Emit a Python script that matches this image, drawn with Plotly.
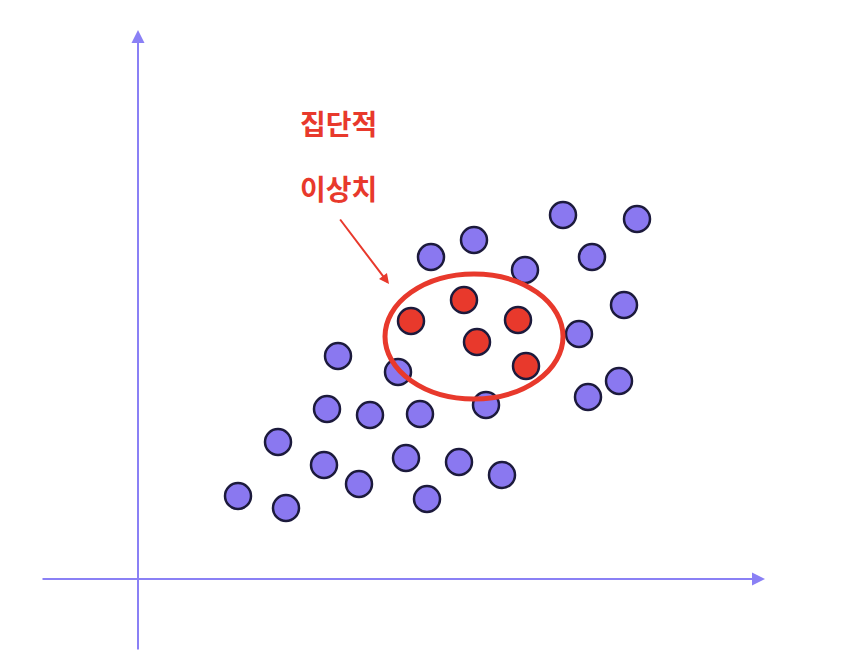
import plotly.graph_objects as go

# point positions (pixel-like units, y grows downwards)
normal_x = [555, 629, 466, 423, 584, 517, 616, 571, 330, 390, 611, 580, 478,
            319, 362, 412, 270, 316, 398, 451, 494, 351, 230, 278, 419]
normal_y = [207, 211, 232, 249, 249, 262, 297, 326, 348, 364, 373, 389, 397,
            401, 407, 406, 434, 457, 450, 454, 467, 476, 488, 500, 491]
outlier_x = [456, 403, 510, 469, 518]
outlier_y = [292, 313, 312, 334, 358]

purple = "#8a78f0"
red = "#e8392c"
edge = "#1c1a3c"
axis_col = "#8a80f5"

fig = go.Figure()
fig.add_trace(go.Scatter(x=normal_x, y=normal_y, mode="markers",
                         marker=dict(size=26, color=purple, line=dict(color=edge, width=2.5))))
fig.add_trace(go.Scatter(x=outlier_x, y=outlier_y, mode="markers",
                         marker=dict(size=26, color=red, line=dict(color=edge, width=2.5))))

# cluster ellipse
fig.add_shape(type="circle", x0=377, x1=555, y0=266, y1=391,
              line=dict(color=red, width=5))

# axes with arrow heads
fig.add_annotation(x=130, y=22, ax=130, ay=643, xref="x", yref="y", axref="x", ayref="y",
                   showarrow=True, arrowhead=2, arrowsize=1.3, arrowwidth=2, arrowcolor=axis_col, text="")
fig.add_annotation(x=757, y=571, ax=33, ay=571, xref="x", yref="y", axref="x", ayref="y",
                   showarrow=True, arrowhead=2, arrowsize=1.3, arrowwidth=2, arrowcolor=axis_col, text="")

# label and pointer
fig.add_annotation(x=330, y=115, text="<b>집단적</b>", showarrow=False,
                   font=dict(size=28, color=red, family="Noto Sans CJK KR"))
fig.add_annotation(x=330, y=180, text="<b>이상치</b>", showarrow=False,
                   font=dict(size=28, color=red, family="Noto Sans CJK KR"))
fig.add_annotation(x=381, y=276, ax=331, ay=210, xref="x", yref="y", axref="x", ayref="y",
                   showarrow=True, arrowhead=2, arrowsize=1, arrowwidth=2, arrowcolor=red, text="")

fig.update_layout(width=858, height=664, margin=dict(l=0, r=0, t=0, b=0),
                  plot_bgcolor="white", paper_bgcolor="white", showlegend=False,
                  xaxis=dict(range=[0, 858], visible=False),
                  yaxis=dict(range=[664, 0], visible=False))
fig.write_html("out.html")
